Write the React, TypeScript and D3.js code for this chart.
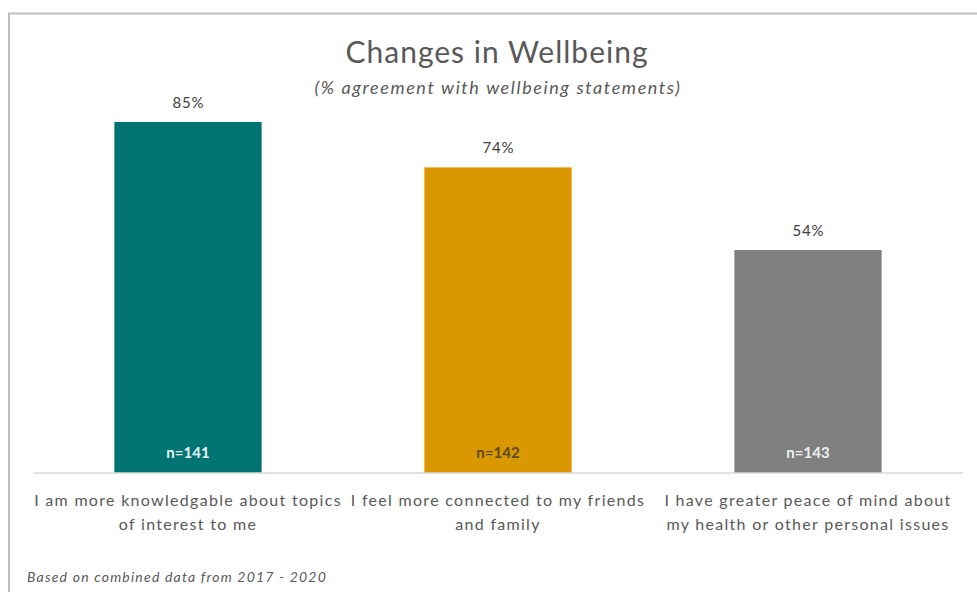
import React from 'react';
import * as d3 from 'd3';

const categories = [
  ['I am more knowledgable about topics', 'of interest to me'],
  ['I feel more connected to my friends', 'and family'],
  ['I have greater peace of mind about', 'my health or other personal issues'],
];
const agreement = [85, 74, 54];
const sampleSizes = ['n=141', 'n=142', 'n=143'];
const barColors = ['#007373', '#D99800', '#808080'];
const nLabelColors = ['#E8F2F2', '#5B4A1E', '#F0F0F0'];

const W = 977;
const H = 592;
const FONT = 'Lato, "Open Sans", sans-serif';

export default function App() {
  const x = d3
    .scaleBand<number>()
    .domain(d3.range(categories.length))
    .range([33, 963])
    .paddingInner(0.525)
    .paddingOuter(0.2625);

  const y = d3.scaleLinear().domain([0, 100]).range([473, 60]);

  return (
    <svg
      width={W}
      height={H}
      style={{ position: 'absolute', left: 0, top: 0, background: '#fff' }}
      fontFamily={FONT}
    >
      {/* chart frame */}
      <rect x={9} y={13.5} width={W + 20} height={H + 20} fill="#fff" stroke="#BFBFBF" strokeWidth={2} />

      <text x={497} y={63} textAnchor="middle" fontSize={30} letterSpacing={1} fill="#595959">
        Changes in Wellbeing
      </text>
      <text x={498} y={94} textAnchor="middle" fontSize={18} letterSpacing={1.6} fontStyle="italic" fill="#595959">
        (% agreement with wellbeing statements)
      </text>

      {agreement.map((v, i) => {
        const bx = x(i)!;
        const cx = bx + x.bandwidth() / 2;
        return (
          <g key={i}>
            <rect x={bx} y={y(v)} width={x.bandwidth()} height={y(0) - y(v)} fill={barColors[i]} />
            <text x={cx + 0.5} y={y(v) - 14} textAnchor="middle" fontSize={15} letterSpacing={0.8} fill="#404040">
              {v}%
            </text>
            <text x={cx} y={y(0) - 15} textAnchor="middle" fontSize={15} fontWeight={700} fill={nLabelColors[i]}>
              {sampleSizes[i]}
            </text>
            {categories[i].map((line, j) => (
              <text
                key={j}
                x={cx}
                y={y(0) + 33 + j * 24}
                textAnchor="middle"
                fontSize={16}
                letterSpacing={1.3}
                fill="#595959"
              >
                {line}
              </text>
            ))}
          </g>
        );
      })}

      <line x1={33} x2={963} y1={y(0)} y2={y(0)} stroke="#D9D9D9" strokeWidth={1.5} />

      <text x={27} y={582} fontSize={14} letterSpacing={1.2} fontStyle="italic" fill="#595959">
        Based on combined data from 2017 - 2020
      </text>
    </svg>
  );
}
